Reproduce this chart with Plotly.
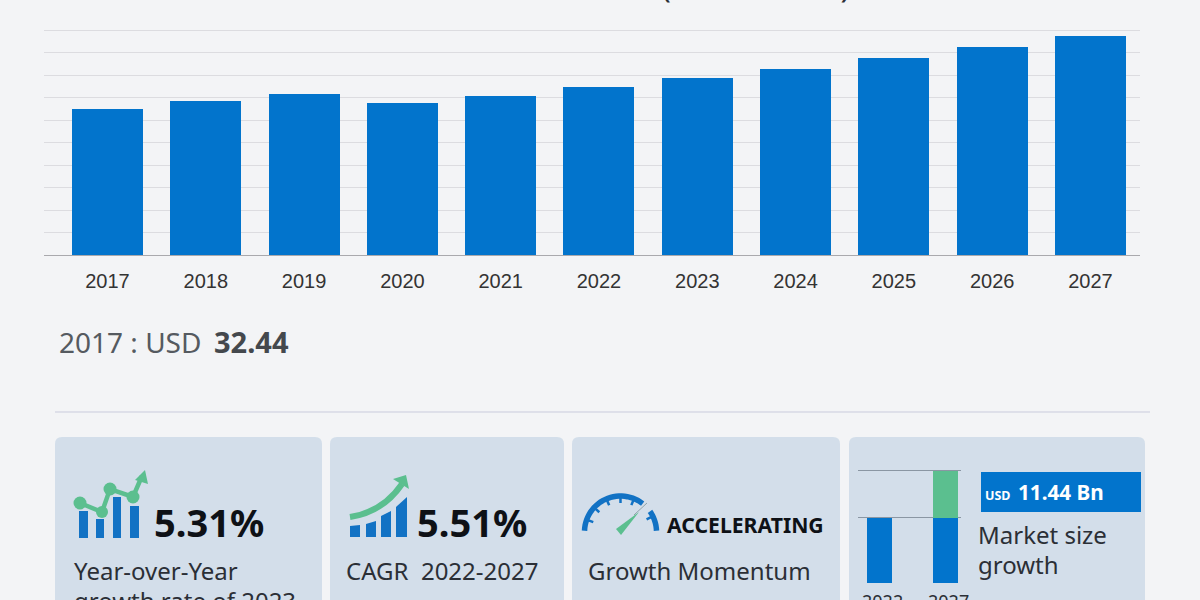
import math
import plotly.graph_objects as go

W, H = 1200, 600

# ---- data ----
years = ["2017", "2018", "2019", "2020", "2021", "2022", "2023", "2024", "2025", "2026", "2027"]
market_size = [32.44, 34.2, 35.8, 33.8, 35.4, 37.3, 39.3, 41.4, 43.7, 46.2, 48.74]
y_ticks = [0, 5, 10, 15, 20, 25, 30, 35, 40, 45, 50]

growth_years = ["2022", "2027"]
growth_base = [37.3, 37.3]
growth_increment = [0, 11.44]

# ---- palette ----
BG = "#f3f4f6"
CARD = "#d3deea"
BLUE = "#0274cc"
ICON_BLUE = "#1272c4"
GREEN = "#5bbf8f"
TEXT = "#2b2f36"
FONT = "Noto Sans"


def px(x):
    return x / W


def py(y):
    return 1 - y / H


def c(x, y):
    return f"{px(x):.5f},{py(y):.5f}"


def path(points, close=True):
    s = "M " + " L ".join(c(*p) for p in points)
    return s + (" Z" if close else "")


def rounded(x0, y0, x1, y1, r):
    return (f"M {c(x0 + r, y0)} L {c(x1 - r, y0)} Q {c(x1, y0)} {c(x1, y0 + r)} "
            f"L {c(x1, y1 - r)} Q {c(x1, y1)} {c(x1 - r, y1)} L {c(x0 + r, y1)} "
            f"Q {c(x0, y1)} {c(x0, y1 - r)} L {c(x0, y0 + r)} Q {c(x0, y0)} {c(x0 + r, y0)} Z")


shapes = []
annotations = []


def add_path(d, fill=None, line=None, width=0):
    shapes.append(dict(type="path", xref="paper", yref="paper", path=d, layer="below",
                       fillcolor=fill if fill else "rgba(0,0,0,0)",
                       line=dict(color=line if line else "rgba(0,0,0,0)", width=width)))


def add_rect(x0, y0, x1, y1, fill):
    shapes.append(dict(type="rect", xref="paper", yref="paper", layer="below",
                       x0=px(x0), x1=px(x1), y0=py(y1), y1=py(y0),
                       fillcolor=fill, line=dict(width=0)))


def add_circle(cx, cy, r, fill):
    shapes.append(dict(type="circle", xref="paper", yref="paper", layer="below",
                       x0=px(cx - r), x1=px(cx + r), y0=py(cy + r), y1=py(cy - r),
                       fillcolor=fill, line=dict(width=0)))


def add_text(text, x, y, size, color=TEXT, bold=False, family=FONT, anchor="left"):
    annotations.append(dict(text=f"<b>{text}</b>" if bold else text, xref="paper", yref="paper",
                            x=px(x), y=py(y), xanchor=anchor, yanchor="middle",
                            showarrow=False, borderpad=0, borderwidth=0,
                            font=dict(family=family, size=size, color=color)))


def add_cut_text(text, x, top, size, anchor="left"):
    # text that the bottom edge of the picture cuts: the box ends at that edge and clips it
    annotations.append(dict(text=text, xref="paper", yref="paper",
                            x=px(x), y=py(top), xanchor=anchor, yanchor="top",
                            height=H - top, valign="top",
                            showarrow=False, borderpad=0, borderwidth=0,
                            font=dict(family=FONT, size=size, color=TEXT)))


# ---- cards and divider ----
for x0, x1 in [(55, 322), (330, 564), (572, 840), (849, 1145)]:
    add_path(rounded(x0, 437, x1, 640, 7), fill=CARD)
shapes.append(dict(type="line", xref="paper", yref="paper", layer="below",
                   x0=px(55), x1=px(1150), y0=py(412), y1=py(412),
                   line=dict(color="#c9cbdc", width=1)))

# ---- icon 1: bars + line ----
for x0, x1, top in [(79, 88, 511), (96, 104, 519), (113, 121, 497), (130, 139, 506)]:
    add_rect(x0, top, x1, 538, ICON_BLUE)
add_path(path([(80, 503), (102, 512), (110, 489), (133, 497), (142, 476)], close=False),
         line=GREEN, width=4.5)
for cx, cy, r in [(80, 503, 6.5), (102, 512, 6), (110, 489, 6.5), (133, 497, 6.5)]:
    add_circle(cx, cy, r, GREEN)
add_path(path([(135, 480), (148, 484), (145, 470)]), fill=GREEN)

# ---- icon 2: rising bars + arrow ----
for pts in [[(350, 526), (360, 525), (360, 537), (350, 537)],
            [(366, 524), (376, 521), (376, 537), (366, 537)],
            [(381, 516), (391, 511), (391, 537), (381, 537)],
            [(396, 507), (407, 497), (407, 537), (396, 537)]]:
    add_path(path(pts), fill=ICON_BLUE)
add_path(f"M {c(350, 517)} Q {c(383, 512)} {c(402, 484)}", line=GREEN, width=6)
add_path(path([(393, 479), (406, 475), (409, 489)]), fill=GREEN)


# ---- icon 3: gauge ----
def arc(a0, a1, r, cx=620.5, cy=532, n=28):
    out = []
    for i in range(n + 1):
        a = math.radians(a0 + (a1 - a0) * i / n)
        out.append((cx + r * math.cos(a), cy - r * math.sin(a)))
    return out


add_path(path(arc(178, 52, 36), close=False), line=ICON_BLUE, width=5.5)
add_path(path(arc(35, 2, 36), close=False), line=ICON_BLUE, width=5.5)
for deg in [160, 137, 113, 90, 68, 26]:
    a = math.radians(deg)
    add_path(path([(620.5 + 34 * math.cos(a), 532 - 34 * math.sin(a)),
                   (620.5 + 29 * math.cos(a), 532 - 29 * math.sin(a))], close=False),
             line=ICON_BLUE, width=2.5)
add_path(path([(634, 515), (647, 503)], close=False), line="#8fa3a8", width=1)
add_path(path([(616, 529), (621, 535), (639, 512)]), fill=GREEN)

# ---- card 4 label ----
add_rect(981, 472, 1141, 512, BLUE)

# ---- texts ----
annotations.append(dict(text="Market size 2017-2027 (USD billion)", xref="paper", yref="paper",
                        x=px(577.5), y=py(-14), xanchor="center", yanchor="middle", showarrow=False,
                        font=dict(family=FONT, size=33, color=TEXT)))
add_text("2017 : USD", 59, 342, 28, color="#555a60")
add_text("32.44", 214, 341, 29, color="#44484d", bold=True)
add_text("5.31%", 154, 522, 38, color="#0e1116", bold=True)
add_text("5.51%", 417, 522, 38, color="#0e1116", bold=True)
add_text("ACCELERATING", 666.5, 524, 21.2, color="#0e1116", bold=True)
add_text("Year-over-Year", 73.5, 570.5, 24)
add_cut_text("growth rate of 2023", 73.5, 583.5, 24)
add_text("CAGR  2022-2027", 345.5, 570.5, 24)
add_text("Growth Momentum", 587.5, 570.5, 24)
add_text("USD", 985, 495, 12.5, color="#ffffff", bold=True)
add_text("11.44 Bn", 1017.5, 492, 20.7, color="#ffffff", bold=True)
add_text("Market size", 978, 534.5, 24)
add_text("growth", 978, 564.5, 24)
add_cut_text(growth_years[0], 882, 589, 18, anchor="center")
add_cut_text(growth_years[1], 948, 589, 18, anchor="center")

# ---- traces ----
fig = go.Figure()
fig.add_trace(go.Bar(x=years, y=market_size, width=0.722, marker=dict(color=BLUE, line=dict(width=0)),
                     xaxis="x", yaxis="y", hoverinfo="skip", showlegend=False))
fig.add_trace(go.Bar(x=growth_years, y=growth_base, width=0.376, marker=dict(color=BLUE, line=dict(width=0)),
                     xaxis="x2", yaxis="y2", hoverinfo="skip", showlegend=False))
fig.add_trace(go.Bar(x=growth_years, y=growth_increment, width=0.376, marker=dict(color=GREEN, line=dict(width=0)),
                     xaxis="x2", yaxis="y2", hoverinfo="skip", showlegend=False))

fig.update_layout(
    width=W, height=H, autosize=False,
    margin=dict(l=0, r=0, t=0, b=0),
    paper_bgcolor=BG, plot_bgcolor="rgba(0,0,0,0)",
    barmode="stack", showlegend=False,
    shapes=shapes, annotations=annotations,
    xaxis=dict(domain=[px(44), px(1140)], type="category", range=[-0.646, 10.504],
               anchor="y", showgrid=False, zeroline=False, showline=False, ticks="",
               ticklabelstandoff=12,
               tickfont=dict(family="Liberation Sans", size=20, color="#333333")),
    # the range runs a little past the top tick so its gridline is kept
    yaxis=dict(domain=[py(255), py(27)], range=[0, 50.667], tickvals=y_ticks, anchor="x",
               showticklabels=False, ticks="", showgrid=True, gridcolor="#dcdce0", gridwidth=1,
               zeroline=True, zerolinecolor="#a9a9ad", zerolinewidth=1, showline=False),
    xaxis2=dict(domain=[px(858), px(961)], type="category", range=[-0.316, 1.233],
                anchor="y2", showgrid=False, zeroline=False, showline=False, ticks="",
                showticklabels=False),
    yaxis2=dict(domain=[py(583), py(468)], range=[21.4, 49.47], tickvals=[37.3, 48.74], anchor="x2",
                showticklabels=False, ticks="", showgrid=True, gridcolor="#8a96a3", gridwidth=1,
                zeroline=False, showline=False),
)

fig.write_html("out.html", config={"displayModeBar": False},
               post_script=("var s=document.documentElement.style;s.margin='0';s.overflow='hidden';"
                            "var b=document.body.style;b.margin='0';b.overflow='hidden';"))
